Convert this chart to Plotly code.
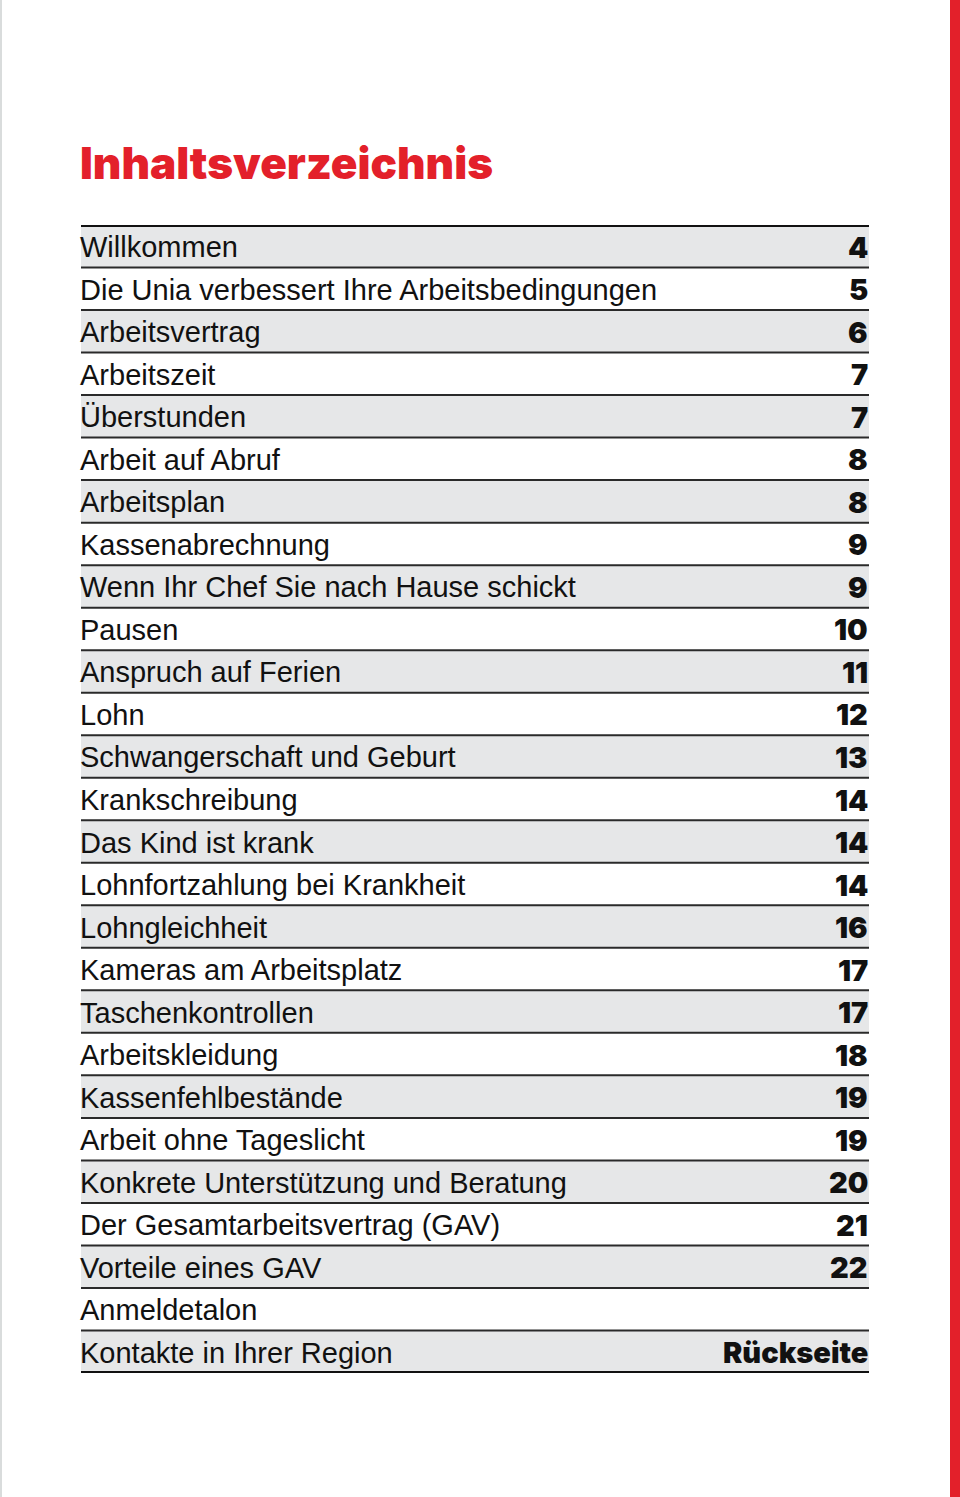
import plotly.graph_objects as go

title = "Inhaltsverzeichnis"
topics = [
    "Willkommen",
    "Die Unia verbessert Ihre Arbeitsbedingungen",
    "Arbeitsvertrag",
    "Arbeitszeit",
    "Überstunden",
    "Arbeit auf Abruf",
    "Arbeitsplan",
    "Kassenabrechnung",
    "Wenn Ihr Chef Sie nach Hause schickt",
    "Pausen",
    "Anspruch auf Ferien",
    "Lohn",
    "Schwangerschaft und Geburt",
    "Krankschreibung",
    "Das Kind ist krank",
    "Lohnfortzahlung bei Krankheit",
    "Lohngleichheit",
    "Kameras am Arbeitsplatz",
    "Taschenkontrollen",
    "Arbeitskleidung",
    "Kassenfehlbestände",
    "Arbeit ohne Tageslicht",
    "Konkrete Unterstützung und Beratung",
    "Der Gesamtarbeitsvertrag (GAV)",
    "Vorteile eines GAV",
    "Anmeldetalon",
    "Kontakte in Ihrer Region",
]
pages = ["4", "5", "6", "7", "7", "8", "8", "9", "9", "10", "11", "12", "13", "14",
         "14", "14", "16", "17", "17", "18", "19", "19", "20", "21", "22", "", "Rückseite"]

n = len(topics)
idx = list(range(n))
shaded = [i for i in idx if i % 2 == 0]

W, H = 960, 1497
ML, MR, MT, MB = 81, 91, 225, 124
PW, PH = W - ML - MR, H - MT - MB

fig = go.Figure()

# shaded rows
fig.add_trace(go.Bar(
    y=shaded, x=[1] * len(shaded), base=0, orientation="h", width=1,
    marker=dict(color="#e6e7e8", line=dict(width=0)), hoverinfo="skip", showlegend=False,
))

# thin separators
sx, sy = [], []
for i in idx[:-1]:
    sx += [0, 1, None]
    sy += [i + 0.5, i + 0.5, None]
fig.add_trace(go.Scatter(x=sx, y=sy, mode="lines", line=dict(color="#2a2a2a", width=2),
                         hoverinfo="skip", showlegend=False))
# thick top / bottom rules
fig.add_trace(go.Scatter(x=[0, 1, None, 0, 1], y=[-0.5, -0.5, None, n - 0.5, n - 0.5],
                         mode="lines", line=dict(color="#111111", width=4),
                         hoverinfo="skip", showlegend=False))

annotations = []
for i, (t, p) in enumerate(zip(topics, pages)):
    annotations.append(dict(x=0, y=i, xref="x", yref="y", text=t, showarrow=False,
                            xanchor="left", yanchor="middle", xshift=-3, yshift=-1,
                            font=dict(family="Liberation Sans, Arial", size=29, color="#111111")))
    if p:
        annotations.append(dict(x=1, y=i, xref="x", yref="y", text=p, showarrow=False,
                                xanchor="right", yanchor="middle", xshift=1, yshift=-1,
                                font=dict(family="Inter, Roboto", size=29, color="#111111",
                                          weight=900)))

annotations.append(dict(x=0, y=1, xref="paper", yref="paper", text=title, showarrow=False,
                        xanchor="left", yanchor="middle", xshift=-3, yshift=62,
                        font=dict(family="Inter, Roboto", size=44, color="#e3202a", weight=900)))

fig.update_layout(
    width=W, height=H,
    margin=dict(l=ML, r=MR, t=MT, b=MB),
    paper_bgcolor="white", plot_bgcolor="white",
    xaxis=dict(range=[0, 1], visible=False, fixedrange=True),
    yaxis=dict(range=[n - 0.5, -0.5], visible=False, fixedrange=True),
    annotations=annotations,
    bargap=0,
    shapes=[
        dict(type="rect", xref="paper", yref="paper",
             x0=(950 - ML) / PW, x1=(W - ML) / PW, y0=-MB / PH, y1=1 + MT / PH,
             fillcolor="#e3202a", line=dict(width=0), layer="above"),
        dict(type="rect", xref="paper", yref="paper",
             x0=-ML / PW, x1=(2 - ML) / PW, y0=-MB / PH, y1=1 + MT / PH,
             fillcolor="#d9dcdc", line=dict(width=0), layer="above"),
    ],
)

fig.write_html(
    "out.html",
    config={"displayModeBar": False, "staticPlot": True},
    post_script="document.body.style.margin='0';document.body.style.overflow='hidden';",
)
